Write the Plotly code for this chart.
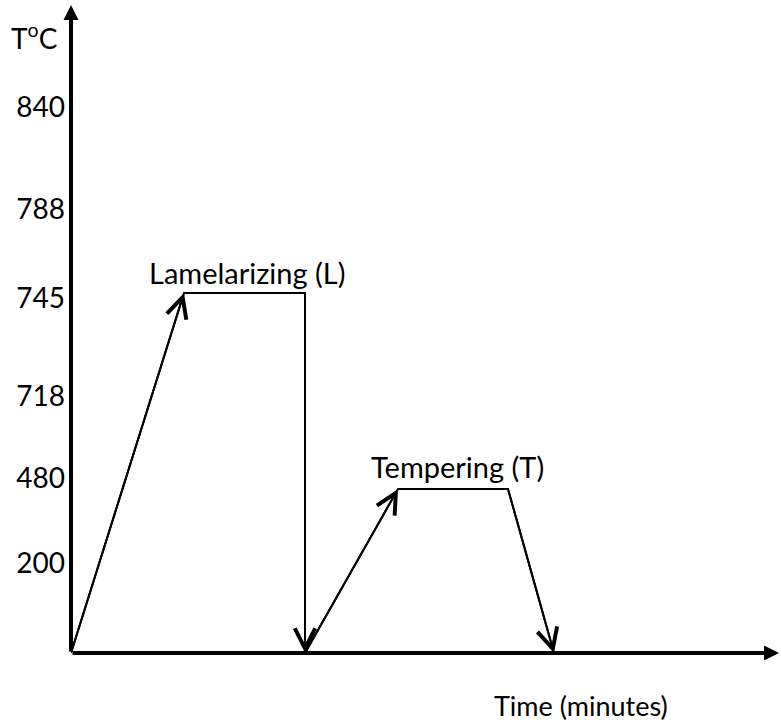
import plotly.graph_objects as go

# Schematic heat-treatment cycle (diagram units: 1 unit ~ 1 px)
tick_pos = [546, 444, 355, 257, 175, 90]
tick_labels = ['840', '788', '745', '718', '480', '200']

time_pts = [0, 113, 234, 234, 327, 437, 483]
temp_pts = [0, 360, 360, 0, 164, 164, 0]

# segments that end with an open arrowhead (index of start point)
arrow_segs = [0, 2, 3, 5]

FONT = 'Lato'
BLACK = '#000000'
FSIZE = 28

fig = go.Figure()

fig.add_trace(go.Scatter(
    x=time_pts, y=temp_pts, mode='lines',
    line=dict(color=BLACK, width=2), hoverinfo='skip', showlegend=False
))

annotations = []
for i in arrow_segs:
    annotations.append(dict(
        x=time_pts[i + 1], y=temp_pts[i + 1], ax=time_pts[i], ay=temp_pts[i],
        xref='x', yref='y', axref='x', ayref='y', text='',
        showarrow=True, arrowhead=5, arrowsize=2, arrowwidth=2, arrowcolor=BLACK,
        standoff=0
    ))

# axis arrows
annotations.append(dict(x=708, y=0, ax=0, ay=0, xref='x', yref='y', axref='x', ayref='y',
                        text='', showarrow=True, arrowhead=2, arrowsize=0.75,
                        arrowwidth=4, arrowcolor=BLACK))
annotations.append(dict(x=0, y=648, ax=0, ay=0, xref='x', yref='y', axref='x', ayref='y',
                        text='', showarrow=True, arrowhead=2, arrowsize=0.75,
                        arrowwidth=4, arrowcolor=BLACK))

# labels
annotations += [
    dict(x=176, y=381, text='Lamelarizing (L)', showarrow=False, xref='x', yref='y',
         font=dict(family=FONT, size=29, color=BLACK)),
    dict(x=386, y=187, text='Tempering (T)', showarrow=False, xref='x', yref='y',
         font=dict(family=FONT, size=29, color=BLACK)),
    dict(x=0.719, y=-0.081, text='Time (minutes)', showarrow=False,
         xref='paper', yref='paper', xanchor='center', yanchor='middle',
         font=dict(family=FONT, size=27, color=BLACK)),
    dict(x=-0.052, y=0.944, text='T<sup>o</sup>C', showarrow=False,
         xref='paper', yref='paper', xanchor='center', yanchor='middle',
         font=dict(family=FONT, size=FSIZE, color=BLACK)),
]

fig.update_layout(
    width=781, height=723,
    margin=dict(l=71, r=0, t=0, b=70),
    paper_bgcolor='white', plot_bgcolor='white',
    annotations=annotations,
    xaxis=dict(range=[0, 710], showgrid=False, zeroline=False, showline=False,
               showticklabels=False, ticks=''),
    yaxis=dict(range=[0, 653], showgrid=False, zeroline=False, showline=False,
               tickmode='array', tickvals=tick_pos, ticktext=tick_labels, ticks='',
               ticklabelstandoff=5, tickfont=dict(family=FONT, size=FSIZE, color=BLACK)),
)

fig.write_html('out.html', config={'displayModeBar': False},
               post_script="document.body.style.margin='0';")
